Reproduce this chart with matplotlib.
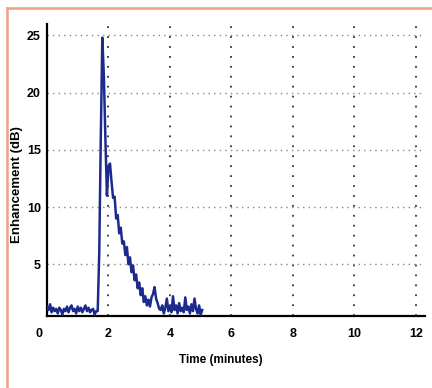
import matplotlib
matplotlib.use('Agg')
import matplotlib.pyplot as plt
from matplotlib.lines import Line2D
from matplotlib.transforms import ScaledTranslation

# time (minutes) and enhancement (dB)
time_min = [0.00, 0.05, 0.10, 0.15, 0.20, 0.25, 0.30, 0.35, 0.40, 0.45,
            0.50, 0.55, 0.60, 0.65, 0.70, 0.75, 0.80, 0.85, 0.90, 0.95,
            1.00, 1.05, 1.10, 1.15, 1.20, 1.25, 1.30, 1.35, 1.40, 1.45,
            1.50, 1.55, 1.60, 1.65, 1.70, 1.75, 1.80, 1.85, 1.90, 1.95,
            2.00, 2.05, 2.10, 2.15, 2.20, 2.25, 2.30, 2.35, 2.40, 2.45,
            2.50, 2.55, 2.60, 2.65, 2.70, 2.75, 2.80, 2.85, 2.90, 2.95,
            3.00, 3.05, 3.10, 3.15, 3.20, 3.25, 3.30, 3.35, 3.40, 3.45,
            3.50, 3.55, 3.60, 3.65, 3.70, 3.75, 3.80, 3.85, 3.90, 3.95,
            4.00, 4.05, 4.10, 4.15, 4.20, 4.25, 4.30, 4.35, 4.40, 4.45,
            4.50, 4.55, 4.60, 4.65, 4.70, 4.75, 4.80, 4.85, 4.90, 4.95,
            5.00, 5.05]
enh_db = [1.3, 1.0, 1.5, 0.8, 1.2, 0.9, 1.1, 0.7, 1.2, 1.0,
          0.6, 1.1, 0.9, 1.3, 0.8, 1.2, 1.4, 0.9, 1.1, 0.7,
          1.3, 0.9, 1.2, 0.8, 1.1, 1.4, 0.9, 1.2, 0.8, 1.0,
          1.1, 0.6, 0.9, 0.9, 6.0, 16.0, 24.8, 21.5, 16.0, 11.0,
          13.5, 13.8, 12.2, 10.8, 10.9, 9.0, 9.3, 7.7, 8.2, 6.8,
          7.0, 5.8, 6.5, 5.0, 5.6, 4.3, 4.9, 3.6, 4.1, 2.9,
          3.4, 2.3, 2.9, 1.7, 2.2, 1.4, 1.9, 1.3, 2.1, 2.4,
          3.0, 2.0, 1.6, 1.1, 1.0, 1.4, 0.7, 1.2, 2.0, 0.9,
          1.3, 0.8, 2.2, 1.0, 1.4, 0.7, 1.6, 0.9, 1.2, 0.8,
          2.1, 1.0, 1.3, 0.7, 1.5, 0.9, 2.0, 1.1, 0.7, 1.4,
          0.6, 1.0]

x_ticks = [0, 2, 4, 6, 8, 10, 12]
y_ticks = [5, 10, 15, 20, 25]

plt.rcParams['font.family'] = ['Liberation Sans', 'DejaVu Sans']

fig = plt.figure(figsize=(4.32, 3.88), dpi=100)
ax = fig.add_axes([0.1088, 0.1863, 0.875, 0.752])

ax.plot(time_min, enh_db, color='#1c2a8e', lw=1.8, zorder=3)

ax.set_xlim(0, 12.3)
ax.set_ylim(0.5, 26)
ax.set_xticks(x_ticks)
ax.set_yticks(y_ticks)
ax.tick_params(length=0, labelsize=9)
ax.tick_params(axis='x', pad=9)
ax.tick_params(axis='y', pad=4.5)
for lab in ax.get_xticklabels() + ax.get_yticklabels():
    lab.set_fontweight('bold')
# the "0" label sits a little left of its tick in the original
lab0 = ax.get_xticklabels()[0]
lab0.set_transform(lab0.get_transform() + ScaledTranslation(-8/100, 0, fig.dpi_scale_trans))

ax.xaxis.grid(True, color='#333333', lw=1.3, linestyle=(0, (1, 4.5)))
ax.yaxis.grid(True, color='#888888', lw=1.0, linestyle=(0, (1, 3)))

for s in ['top', 'right']:
    ax.spines[s].set_visible(False)
for s in ['left', 'bottom']:
    ax.spines[s].set_linewidth(1.6)

ax.set_xlabel('Time (minutes)', fontsize=8.5, fontweight='bold')
ax.set_ylabel('Enhancement (dB)', fontsize=9.5, fontweight='bold')
ax.xaxis.set_label_coords(0.46, -0.13)
ax.yaxis.set_label_coords(-0.063, 0.45)

# orange frame around the panel
fig.add_artist(Line2D([7/432, 1], [1 - 8/388, 1 - 8/388], color='#f0a083', lw=1.8))
fig.add_artist(Line2D([7/432, 7/432], [0, 1 - 8/388], color='#f0a083', lw=1.8))

fig.savefig('out.png', dpi=100)
